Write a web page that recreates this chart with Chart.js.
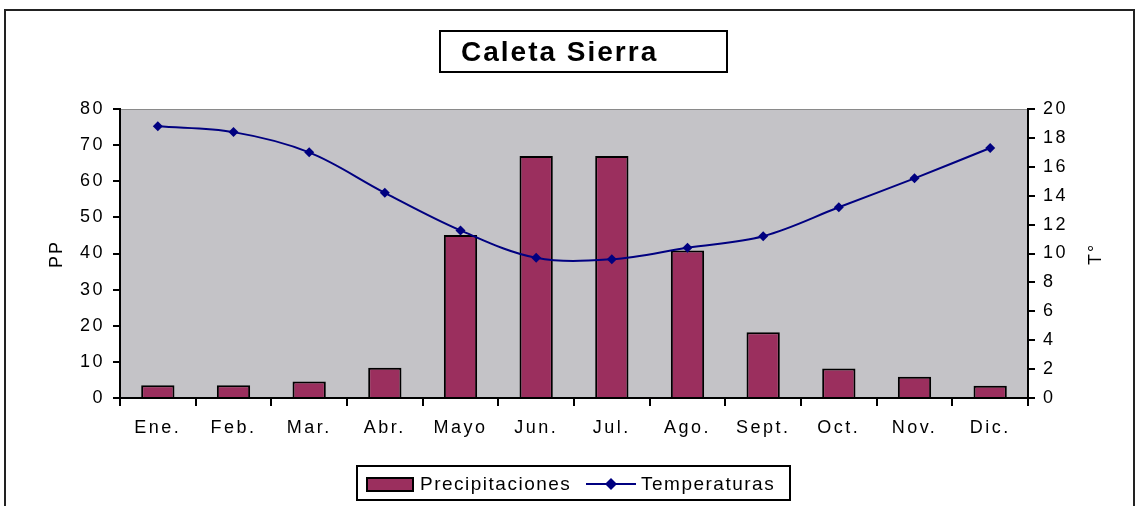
<!DOCTYPE html>
<html>
<head>
<meta charset="utf-8">
<script src="https://cdn.jsdelivr.net/npm/chart.js@4.4.1/dist/chart.umd.min.js"></script>
<style>
  html, body { margin: 0; padding: 0; background: #fff; }
  #wrap { width: 1142px; height: 506px; position: relative; }
</style>
</head>
<body>
<div id="wrap"><canvas id="climaChart" width="1142" height="506"></canvas></div>
<script>
// datos del climograma
const meses = ["Ene.", "Feb.", "Mar.", "Abr.", "Mayo", "Jun.", "Jul.", "Ago.", "Sept.", "Oct.", "Nov.", "Dic."];
const precipitaciones = [3.5, 3.5, 4.6, 8.4, 45.1, 67, 67, 40.8, 18.2, 8.2, 5.9, 3.4];
const temperaturas = [18.8, 18.4, 17.0, 14.2, 11.6, 9.7, 9.6, 10.4, 11.2, 13.2, 15.2, 17.3];
const titulo = "Caleta Sierra";
const tituloPP = "PP";
const tituloT = "T°";

const fuente = "'Liberation Sans', Arial, sans-serif";
const espacioTicks = "2.5px";

// fondos, recuadros y leyenda propia
const marcoPlugin = {
    id: "marco",
    beforeLayout(chart) {
        chart.ctx.letterSpacing = espacioTicks;
    },
    beforeDraw(chart) {
        const ctx = chart.ctx;
        const a = chart.chartArea;
        ctx.letterSpacing = espacioTicks;
        ctx.save();
        ctx.fillStyle = "#fff";
        ctx.fillRect(0, 0, chart.width, chart.height);
        // borde exterior
        ctx.strokeStyle = "#222";
        ctx.lineWidth = 2;
        ctx.strokeRect(5, 10, 1129, 520);
        // area del grafico
        ctx.fillStyle = "#c4c3c7";
        ctx.fillRect(a.left, a.top, a.right - a.left, a.bottom - a.top);
        ctx.strokeStyle = "#8a8a8a";
        ctx.lineWidth = 1;
        ctx.beginPath();
        ctx.moveTo(a.left, a.top + 0.5);
        ctx.lineTo(a.right, a.top + 0.5);
        ctx.stroke();
        ctx.restore();
    },
    afterDraw(chart) {
        const ctx = chart.ctx;
        ctx.save();
        // titulo
        ctx.strokeStyle = "#000";
        ctx.lineWidth = 2;
        ctx.strokeRect(440, 31, 287, 41);
        ctx.fillStyle = "#000";
        ctx.font = "bold 28px " + fuente;
        ctx.letterSpacing = "2px";
        ctx.textBaseline = "middle";
        ctx.textAlign = "left";
        ctx.fillText(titulo, 461, 53);

        // titulos de ejes (los dos de abajo hacia arriba)
        ctx.font = "18px " + fuente;
        ctx.letterSpacing = "2px";
        ctx.textAlign = "center";
        ctx.save();
        ctx.translate(57, 254);
        ctx.rotate(-Math.PI / 2);
        ctx.fillText(tituloPP, 0, 0);
        ctx.restore();
        ctx.save();
        ctx.translate(1096, 254);
        ctx.rotate(-Math.PI / 2);
        ctx.fillText(tituloT, 0, 0);
        ctx.restore();

        // leyenda
        ctx.lineWidth = 2;
        ctx.strokeStyle = "#000";
        ctx.strokeRect(357, 466, 433, 34);
        const dsBar = chart.data.datasets[0];
        const dsLin = chart.data.datasets[1];
        ctx.fillStyle = dsBar.backgroundColor;
        ctx.fillRect(367, 478, 46, 13);
        ctx.lineWidth = 2;
        ctx.strokeRect(367, 478, 46, 13);
        ctx.font = "19px " + fuente;
        ctx.letterSpacing = "1.5px";
        ctx.textAlign = "left";
        ctx.fillStyle = "#000";
        ctx.fillText(dsBar.label, 420, 485);
        ctx.strokeStyle = dsLin.borderColor;
        ctx.beginPath();
        ctx.moveTo(586, 484);
        ctx.lineTo(636, 484);
        ctx.stroke();
        ctx.fillStyle = dsLin.borderColor;
        ctx.beginPath();
        ctx.moveTo(611, 478);
        ctx.lineTo(617, 484);
        ctx.lineTo(611, 490);
        ctx.lineTo(605, 484);
        ctx.closePath();
        ctx.fill();
        ctx.fillStyle = "#000";
        ctx.fillText(dsLin.label, 641, 485);
        ctx.restore();
    }
};

const ctx = document.getElementById("climaChart").getContext("2d");
ctx.letterSpacing = espacioTicks;

new Chart(ctx, {
    type: "bar",
    data: {
        labels: meses,
        datasets: [{
            label: "Precipitaciones",
            data: precipitaciones,
            yAxisID: "y",
            backgroundColor: "#9b2f5e",
            borderColor: "#000",
            borderWidth: 2,
            borderSkipped: "bottom",
            barPercentage: 0.44,
            categoryPercentage: 1,
            order: 2
        }, {
            type: "line",
            label: "Temperaturas",
            data: temperaturas,
            yAxisID: "y1",
            borderColor: "#000080",
            backgroundColor: "#000080",
            borderWidth: 2,
            tension: 0.35,
            pointStyle: "rectRot",
            pointRadius: 5,
            pointBorderWidth: 0,
            fill: false,
            order: 1
        }]
    },
    options: {
        responsive: false,
        animation: false,
        layout: { padding: { left: 0, right: 0, top: 109, bottom: 0 } },
        plugins: {
            legend: { display: false },
            title: { display: false },
            tooltip: { enabled: false }
        },
        scales: {
            x: {
                offset: true,
                grid: { drawOnChartArea: false, drawTicks: true, tickLength: 8, color: "#000", lineWidth: 2, offset: true },
                border: { color: "#000", width: 2 },
                ticks: { color: "#000", font: { family: fuente, size: 18 }, padding: 11, maxRotation: 0 },
                afterFit: s => { s.height = 108; }
            },
            y: {
                position: "left",
                min: 0, max: 80,
                ticks: { stepSize: 10, color: "#000", font: { family: fuente, size: 18 }, padding: 8 },
                grid: { drawOnChartArea: false, drawTicks: true, tickLength: 7, color: "#000", lineWidth: 2 },
                border: { color: "#000", width: 2 },
                afterFit: s => { s.width = 120; }
            },
            y1: {
                position: "right",
                min: 0, max: 20,
                ticks: { stepSize: 2, color: "#000", font: { family: fuente, size: 18 }, padding: 8 },
                grid: { drawOnChartArea: false, drawTicks: true, tickLength: 7, color: "#000", lineWidth: 2 },
                border: { color: "#000", width: 2 },
                afterFit: s => { s.width = 114; }
            }
        }
    },
    plugins: [marcoPlugin]
});
</script>
</body>
</html>
